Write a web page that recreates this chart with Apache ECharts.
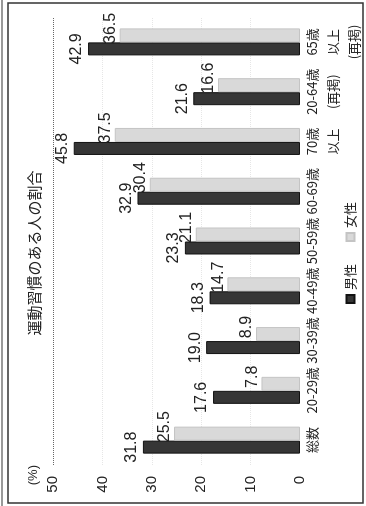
<!DOCTYPE html>
<html>
<head>
<meta charset="utf-8">
<script src="https://cdn.jsdelivr.net/npm/echarts@6/dist/echarts.min.js"></script>
<style>
html,body{margin:0;padding:0;background:#fff;overflow:hidden;width:366px;height:506px;}
#wrap{position:absolute;left:0;top:0;width:506px;height:366px;transform-origin:0 0;transform:translate(0,506px) rotate(-90deg);}
#chart{width:506px;height:366px;}
</style>
</head>
<body>
<div id="wrap"><div id="chart"></div></div>
<script>
const categories = ['総数', '20-29歳', '30-39歳', '40-49歳', '50-59歳', '60-69歳', '70歳\n以上', '20-64歳\n(再掲)', '65歳\n以上\n(再掲)'];
const maleValues = [31.8, 17.6, 19.0, 18.3, 23.3, 32.9, 45.8, 21.6, 42.9];
const femaleValues = [25.5, 7.8, 8.9, 14.7, 21.1, 30.4, 37.5, 16.6, 36.5];
const valueTicks = [0, 10, 20, 30, 40, 50];
const titleText = '運動習慣のある人の割合';
const seriesNames = ['男性', '女性'];

const numFont = '"Liberation Sans Narrow","Liberation Sans","Noto Sans CJK JP",sans-serif';
const jpFont = '"Noto Sans CJK JP",sans-serif';

const chart = echarts.init(document.getElementById('chart'), null, {width: 506, height: 366});
chart.setOption({
  animation: false,
  backgroundColor: '#fff',
  title: {
    text: titleText,
    left: 'center',
    top: 22,
    textStyle: {fontFamily: jpFont, fontSize: 15, fontWeight: 'normal', color: '#222'}
  },
  legend: {
    data: seriesNames,
    left: 'center',
    top: 339,
    icon: 'rect',
    itemWidth: 8,
    itemHeight: 8,
    itemGap: 22,
    textStyle: {fontFamily: jpFont, fontSize: 13, color: '#222'}
  },
  grid: {left: 41, right: 17, top: 53, bottom: 66, containLabel: false},
  xAxis: {
    type: 'category',
    data: categories,
    axisLine: {show: false},
    axisTick: {show: false},
    axisLabel: {
      interval: 0,
      margin: 2,
      lineHeight: 21,
      fontFamily: jpFont,
      fontSize: 13,
      color: '#222'
    }
  },
  yAxis: {
    type: 'value',
    min: valueTicks[0],
    max: valueTicks[valueTicks.length - 1],
    interval: 10,
    name: '(%)',
    nameLocation: 'end',
    nameGap: 13,
    nameTextStyle: {fontFamily: numFont, fontSize: 13, color: '#222', align: 'right'},
    axisLine: {show: false},
    axisTick: {show: false},
    axisLabel: {margin: 11, fontFamily: numFont, fontSize: 15, color: '#222'},
    splitLine: {
      show: true,
      lineStyle: {type: 'dotted', width: 1, color: ['rgba(0,0,0,0)', '#e6e6e6', '#e6e6e6', '#e6e6e6', '#e6e6e6', '#666']}
    }
  },
  series: [
    {
      name: seriesNames[0],
      type: 'bar',
      data: maleValues,
      barWidth: 13,
      barGap: '0%',
      itemStyle: {color: '#363636', borderColor: '#111', borderWidth: 1},
      label: {
        show: true, position: 'top', distance: 3,
        fontFamily: numFont, fontSize: 16, color: '#222',
        formatter: p => p.value.toFixed(1)
      }
    },
    {
      name: seriesNames[1],
      type: 'bar',
      data: femaleValues,
      barWidth: 14,
      itemStyle: {color: '#d9d9d9', borderColor: '#c4c4c4', borderWidth: 1},
      label: {
        show: true, position: 'top', distance: 1, offset: [7, 0],
        fontFamily: numFont, fontSize: 16, color: '#222',
        formatter: p => p.value.toFixed(1)
      }
    }
  ],
  graphic: [
    {type: 'rect', shape: {x: 3, y: 8, width: 500, height: 355}, style: {fill: 'none', stroke: '#333', lineWidth: 1.5}, silent: true},
    {type: 'line', shape: {x1: 0, y1: 2, x2: 506, y2: 2}, style: {stroke: '#777', lineWidth: 1.5}, silent: true}
  ]
});
</script>
</body>
</html>
